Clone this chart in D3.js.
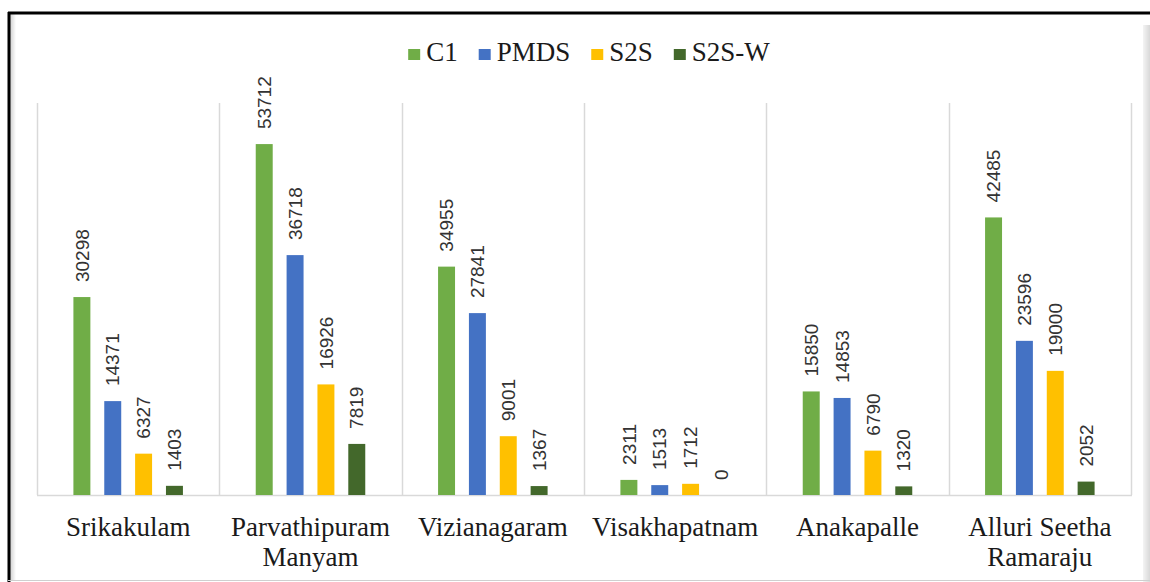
<html>
<head>
<meta charset="utf-8">
<script src="https://cdn.jsdelivr.net/npm/d3@7"></script>
<style>
  body { margin: 0; background: #fff; }
  svg { display: block; }
</style>
</head>
<body>
<svg></svg>
<script>
// data
var districts = ["Srikakulam", "Parvathipuram Manyam", "Vizianagaram", "Visakhapatnam", "Anakapalle", "Alluri Seetha Ramaraju"];
var seriesNames = ["C1", "PMDS", "S2S", "S2S-W"];
var c1   = [30298, 53712, 34955, 2311, 15850, 42485];
var pmds = [14371, 36718, 27841, 1513, 14853, 23596];
var s2s  = [6327, 16926, 9001, 1712, 6790, 19000];
var s2sw = [1403, 7819, 1367, 0, 1320, 2052];
var colors = ["#70ad47", "#4472c4", "#ffc000", "#43682b"];

var W = 1150, H = 582;
var plotL = 37, plotR = 1131, plotT = 103, plotB = 495;
var serif = "'Liberation Serif', 'Times New Roman', serif";

var svg = d3.select("svg").attr("width", W).attr("height", H);

// frame (screenshot style border)
var defs = svg.append("defs");
var gr = defs.append("linearGradient").attr("id", "shR");
gr.append("stop").attr("offset", "0%").attr("stop-color", "#f4f4f4");
gr.append("stop").attr("offset", "100%").attr("stop-color", "#d8d8d8");
var gl = defs.append("linearGradient").attr("id", "shL");
gl.append("stop").attr("offset", "0%").attr("stop-color", "#cfcfcf");
gl.append("stop").attr("offset", "100%").attr("stop-color", "#ffffff");
svg.append("rect").attr("x", 1143).attr("y", 25).attr("width", 7).attr("height", H - 25).attr("fill", "url(#shR)");
svg.append("rect").attr("x", 10).attr("y", 14).attr("width", 6).attr("height", H - 16).attr("fill", "url(#shL)");
svg.append("line").attr("x1", 8).attr("x2", 1150).attr("y1", 13).attr("y2", 13).attr("stroke", "#000").attr("stroke-width", 3);
svg.append("line").attr("x1", 9).attr("x2", 9).attr("y1", 12).attr("y2", H).attr("stroke", "#000").attr("stroke-width", 3);
svg.append("line").attr("x1", 8).attr("x2", 1150).attr("y1", 580.5).attr("y2", 580.5).attr("stroke", "#cfcfcf").attr("stroke-width", 1);

var x0 = d3.scaleBand().domain(districts).range([plotL, plotR]).padding(0);
var x1 = d3.scaleBand().domain(seriesNames).range([0, x0.bandwidth()]).paddingInner(0.45).paddingOuter(1.18);
var y = d3.scaleLinear().domain([0, 60000]).range([plotB, plotT]);

// category separators
var edges = districts.map(function(d){ return x0(d); }).concat([plotR]);
svg.selectAll(".sep").data(edges).enter()
  .append("line").classed("sep", 1)
  .attr("x1", function(d){ return Math.round(d) + 0.5; })
  .attr("x2", function(d){ return Math.round(d) + 0.5; })
  .attr("y1", plotT).attr("y2", plotB)
  .attr("stroke", "#d9d9d9").attr("stroke-width", 1.5);
svg.append("line").attr("x1", plotL).attr("x2", plotR + 1)
  .attr("y1", plotB + 0.5).attr("y2", plotB + 0.5)
  .attr("stroke", "#d9d9d9").attr("stroke-width", 1.5);

var table = [c1, pmds, s2s, s2sw];
var rows = [];
districts.forEach(function(d, i){
  seriesNames.forEach(function(s, j){
    rows.push({district: d, series: s, value: table[j][i], color: colors[j]});
  });
});

svg.selectAll(".bar").data(rows).enter()
  .append("rect").classed("bar", 1)
  .attr("x", function(d){ return x0(d.district) + x1(d.series); })
  .attr("y", function(d){ return y(d.value); })
  .attr("width", x1.bandwidth())
  .attr("height", function(d){ return plotB - y(d.value); })
  .attr("fill", function(d){ return d.color; });

// value labels, rotated
svg.selectAll(".lbl").data(rows).enter()
  .append("text").classed("lbl", 1)
  .attr("transform", function(d){
    var cx = x0(d.district) + x1(d.series) + x1.bandwidth() / 2;
    return "translate(" + cx + "," + (y(d.value) - 15) + ") rotate(-90)";
  })
  .attr("dy", "0.35em")
  .attr("text-anchor", "start")
  .attr("font-family", "'Liberation Sans', Arial, sans-serif")
  .attr("font-size", 19)
  .attr("fill", "#333")
  .text(function(d){ return d.value; });

// category labels with wrapping
function wrap(name, width) {
  var words = name.split(" "), lines = [], cur = "";
  var tmp = svg.append("text").attr("font-family", serif).attr("font-size", 27);
  words.forEach(function(w){
    var t = cur ? cur + " " + w : w;
    tmp.text(t);
    if (tmp.node().getComputedTextLength() > width && cur) { lines.push(cur); cur = w; }
    else cur = t;
  });
  lines.push(cur);
  tmp.remove();
  return lines;
}
var cat = svg.selectAll(".cat").data(districts).enter()
  .append("text").classed("cat", 1)
  .attr("x", function(d){ return x0(d) + x0.bandwidth() / 2; })
  .attr("y", 536)
  .attr("text-anchor", "middle")
  .attr("font-family", serif)
  .attr("font-size", 27)
  .attr("fill", "#1a1a1a");
cat.each(function(d){
  var el = d3.select(this);
  wrap(d, 175).forEach(function(line, k){
    el.append("tspan").attr("x", x0(d) + x0.bandwidth() / 2).attr("dy", k ? 30 : 0).text(line);
  });
});

// legend
var leg = svg.append("g");
var lx = 0;
seriesNames.forEach(function(s, j){
  var g = leg.append("g").attr("transform", "translate(" + lx + ",0)");
  g.append("rect").attr("x", 0).attr("y", 49).attr("width", 12).attr("height", 11).attr("fill", colors[j]);
  var t = g.append("text").attr("x", 18).attr("y", 61)
    .attr("font-family", serif)
    .attr("font-size", 27).attr("fill", "#1a1a1a").text(s);
  lx += 18 + t.node().getComputedTextLength() + 21;
});
var legW = lx - 21;
leg.attr("transform", "translate(" + (589 - legW / 2) + ",0)");
</script>
</body>
</html>
